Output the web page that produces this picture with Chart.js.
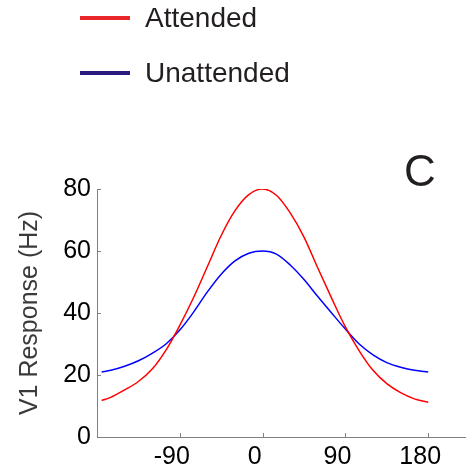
<!DOCTYPE html>
<html>
<head>
<meta charset="utf-8">
<script src="https://cdn.jsdelivr.net/npm/chart.js@4/dist/chart.umd.min.js"></script>
<style>
  html, body { margin: 0; padding: 0; background: #fff; }
  #wrap { width: 466px; height: 475px; position: relative; }
</style>
</head>
<body>
<div id="wrap"><canvas id="c" width="466" height="475"></canvas></div>
<script>
// orientation (deg) vs response
const orientations = [-175, -165, -150, -135, -120, -105, -90, -75, -60, -45, -30, -15, 0,
  15, 30, 45, 60, 75, 90, 105, 120, 135, 150, 165, 180];
const attended = [11.8, 12.8, 15.2, 17.9, 21.9, 28.0, 36.0, 45.0, 55.0, 65.0, 73.0, 78.2, 80.0,
  78.0, 72.3, 64.5, 54.5, 44.8, 35.5, 27.8, 21.5, 17.2, 14.3, 12.3, 11.2];
const unattended = [21.0, 21.5, 22.8, 24.6, 27.0, 30.0, 34.5, 40.3, 46.8, 52.5, 56.8, 59.3, 60.0,
  59.0, 55.5, 50.8, 45.3, 40.0, 34.8, 30.0, 26.5, 24.0, 22.5, 21.5, 21.0];
const xTicks = [-90, 0, 90, 180];
const yTicks = [0, 20, 40, 60, 80];
const legendItems = [
  { label: 'Attended', color: '#e8262a' },
  { label: 'Unattended', color: '#2b1b80' },
];
const panelLabel = 'C';

const FONT = '"Liberation Sans", Arial, sans-serif';

const toPts = ys => orientations.map((x, i) => ({ x, y: ys[i] }));

// MATLAB-like inward ticks, legend block and panel letter
const extras = {
  id: 'extras',
  afterDraw(chart) {
    const { ctx, scales: { x, y } } = chart;
    ctx.save();
    ctx.strokeStyle = '#808080';
    ctx.lineWidth = 1;
    ctx.beginPath();
    xTicks.forEach(v => {
      const px = Math.round(x.getPixelForValue(v)) + 0.5;
      ctx.moveTo(px, y.bottom);
      ctx.lineTo(px, y.bottom - 4);
    });
    yTicks.forEach(v => {
      const py = Math.round(y.getPixelForValue(v)) + 0.5;
      ctx.moveTo(x.left, py);
      ctx.lineTo(x.left + 4, py);
    });
    ctx.stroke();

    ctx.font = `28px ${FONT}`;
    ctx.textBaseline = 'middle';
    legendItems.forEach((it, i) => {
      const ly = 18 + i * 55;
      ctx.strokeStyle = it.color;
      ctx.lineWidth = 4;
      ctx.beginPath();
      ctx.moveTo(80, ly);
      ctx.lineTo(130, ly);
      ctx.stroke();
      ctx.fillStyle = '#231f20';
      ctx.fillText(it.label, 145, ly + 1);
    });

    ctx.font = `44px ${FONT}`;
    ctx.textAlign = 'center';
    ctx.fillStyle = '#231f20';
    ctx.fillText(panelLabel, 420, 174);
    ctx.restore();
  }
};

new Chart(document.getElementById('c'), {
  type: 'line',
  data: {
    datasets: [
      {
        label: 'Attended',
        data: toPts(attended),
        borderColor: '#ff0000',
        borderWidth: 1.5,
        pointRadius: 0,
        cubicInterpolationMode: 'monotone',
      },
      {
        label: 'Unattended',
        data: toPts(unattended),
        borderColor: '#0000ff',
        borderWidth: 1.5,
        pointRadius: 0,
        cubicInterpolationMode: 'monotone',
      },
    ],
  },
  options: {
    responsive: false,
    animation: false,
    layout: { padding: { top: 189, right: 1, left: 0, bottom: 0 } },
    plugins: { legend: { display: false }, tooltip: { enabled: false } },
    scales: {
      x: {
        type: 'linear',
        min: -180,
        max: 220,
        afterBuildTicks: s => { s.ticks = xTicks.map(v => ({ value: v })); },
        afterFit: s => { s.height = 38; },
        grid: { display: true, drawOnChartArea: false, drawTicks: false },
        border: { color: '#808080', width: 1 },
        ticks: { color: '#000', font: { family: FONT, size: 25 }, padding: 5, maxRotation: 0, labelOffset: -8 },
      },
      y: {
        min: 0,
        max: 80,
        afterBuildTicks: s => { s.ticks = yTicks.map(v => ({ value: v })); },
        afterFit: s => { s.width = 97; },
        grid: { display: true, drawOnChartArea: false, drawTicks: false },
        border: { color: '#808080', width: 1 },
        ticks: { color: '#000', font: { family: FONT, size: 25 }, padding: 6 },
        title: {
          display: true,
          text: 'V1 Response (Hz)',
          color: '#3a3a3a',
          font: { family: FONT, size: 25 },
          padding: { top: 15, bottom: 0 },
        },
      },
    },
  },
  plugins: [extras],
});
</script>
</body>
</html>
